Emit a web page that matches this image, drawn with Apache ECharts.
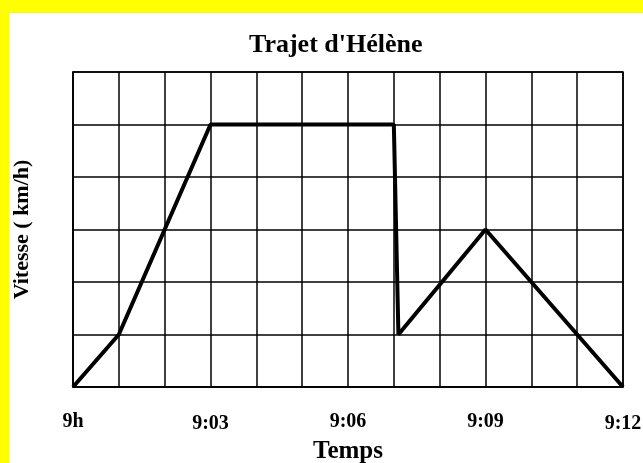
<!DOCTYPE html>
<html>
<head>
<meta charset="utf-8">
<script src="https://cdn.jsdelivr.net/npm/echarts@6/dist/echarts.min.js"></script>
<style>
  html, body { margin: 0; padding: 0; background: #fff; }
  #chart { width: 643px; height: 463px; }
</style>
</head>
<body>
<div id="chart"></div>
<script>
// minutes after 9h
var minutes = [0, 1, 3, 7, 7.1, 9, 12]
// speed in grid units (no scale given on the axis)
var speeds = [0, 1, 5, 5, 1, 3, 0]
var tickLabels = { 0: '9h', 3: '9:03', 6: '9:06', 9: '9:09', 12: '9:12' }
var lowLabels = ['9:03', '9:12']

var chart = echarts.init(document.getElementById('chart'))
var serif = '"Liberation Serif", "DejaVu Serif", serif'

var points = minutes.map(function (m, i) { return [m, speeds[i]] })

var option = {
  backgroundColor: '#fff',
  animation: false,
  title: {
    text: "Trajet d'Hélène",
    left: 244,
    top: 27,
    textStyle: { fontFamily: serif, fontSize: 26, fontWeight: 'bold', color: '#000' }
  },
  graphic: [
    { type: 'rect', shape: { x: 0, y: 0, width: 643, height: 13 }, style: { fill: '#ffff00' }, z: 100 },
    { type: 'rect', shape: { x: 0, y: 0, width: 9, height: 463 }, style: { fill: '#ffff00' }, z: 100 }
  ],
  grid: {
    left: 73,
    top: 72,
    width: 550,
    height: 315,
    outerBoundsMode: 'none',
    containLabel: false,
    show: true,
    borderColor: '#000',
    borderWidth: 1.5
  },
  xAxis: {
    type: 'value',
    min: 0,
    max: 12,
    interval: 1,
    name: 'Temps',
    nameLocation: 'middle',
    nameGap: 48,
    nameTextStyle: { fontFamily: serif, fontSize: 25, fontWeight: 'bold', color: '#000' },
    axisLine: { lineStyle: { color: '#000', width: 1.5 } },
    axisTick: { show: false },
    splitLine: { lineStyle: { color: '#000', width: 1.5 } },
    axisLabel: {
      margin: 25,
      formatter: function (v) {
        var t = tickLabels[v]
        if (!t) return ''
        return lowLabels.indexOf(t) >= 0 ? '{b|' + t + '}' : '{a|' + t + '}'
      },
      rich: {
        a: { fontFamily: serif, fontSize: 20, fontWeight: 'bold', color: '#000' },
        b: { fontFamily: serif, fontSize: 20, fontWeight: 'bold', color: '#000', padding: [2, 0, 0, 0] }
      }
    }
  },
  yAxis: {
    type: 'value',
    min: 0,
    max: 6,
    interval: 1,
    name: 'Vitesse ( km/h)',
    nameLocation: 'middle',
    nameGap: 40,
    nameTextStyle: { fontFamily: serif, fontSize: 22, fontWeight: 'bold', color: '#000' },
    axisLine: { show: true, lineStyle: { color: '#000', width: 1.5 } },
    axisTick: { show: false },
    axisLabel: { show: false },
    splitLine: { lineStyle: { color: '#000', width: 1.5 } }
  },
  series: [
    {
      type: 'line',
      data: points,
      showSymbol: false,
      clip: false,
      lineStyle: { color: '#000', width: 4 },
      z: 10
    }
  ]
}

chart.setOption(option)
</script>
</body>
</html>
